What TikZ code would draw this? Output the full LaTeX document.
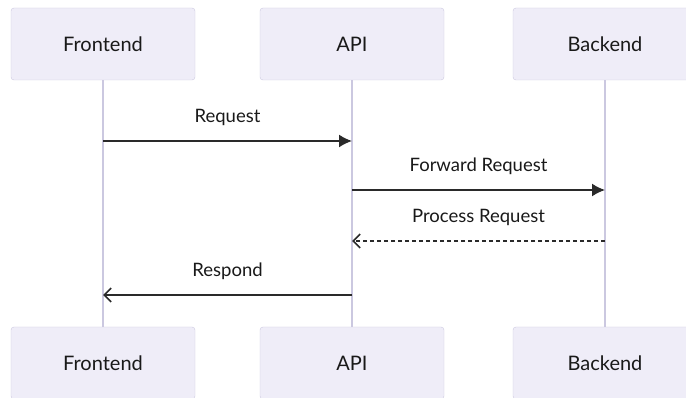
\documentclass[tikz,border=0pt]{standalone}
\usepackage{fontspec}
\setmainfont{Lato}
\usepackage{tikz}
\usetikzlibrary{arrows.meta}

\definecolor{actfill}{HTML}{EFEDF8}
\definecolor{actline}{HTML}{CBC8E0}
\definecolor{msgline}{HTML}{2A2A2A}

\begin{document}
\begin{tikzpicture}[x=1pt, y=-1pt]
\useasboundingbox (0,0) rectangle (686,398);
\begin{scope}[every node/.style={draw=actline,fill=actfill,rounded corners=3pt,minimum width=184pt,minimum height=72pt,font=\fontsize{20}{24}\selectfont,text=black!90}]
    \node (front) at (103,44) {Frontend};
    \node (api) at (352,44) {API};
    \node (back) at (605,44) {Backend};
    \node (frontB) at (103,363) {Frontend};
    \node (apiB) at (352,363) {API};
    \node (backB) at (605,363) {Backend};
\end{scope}
% lifelines
\begin{scope}[actline, line width=1.8pt]
    \draw (front) -- (frontB);
    \draw (api) -- (apiB);
    \draw (back) -- (backB);
\end{scope}
% message ends on the lifelines
\coordinate (f1) at (103,141);
\coordinate (a1) at (352,141);
\coordinate (a2) at (352,190);
\coordinate (b2) at (605,190);
\coordinate (b3) at (605,241);
\coordinate (a3) at (352,241);
\coordinate (a4) at (352,295);
\coordinate (f4) at (103,295);
\begin{scope}[every node/.style={above=11pt,font=\fontsize{18.5}{22}\selectfont,text=black!90}, every edge/.style={draw=msgline,line width=1.6pt}]
    \path [-{Latex[length=13pt,width=13pt]}] (f1) edge node {Request} (a1);
    \path [-{Latex[length=13pt,width=13pt]}] (a2) edge node {Forward Request} (b2);
    \path [-{Straight Barb[length=7pt,width=14pt]}] (b3) edge[dash pattern=on 4pt off 3pt] node {Process Request} (a3);
    \path [-{Straight Barb[length=7pt,width=14pt]}] (a4) edge node {Respond} (f4);
\end{scope}
\end{tikzpicture}
\end{document}
